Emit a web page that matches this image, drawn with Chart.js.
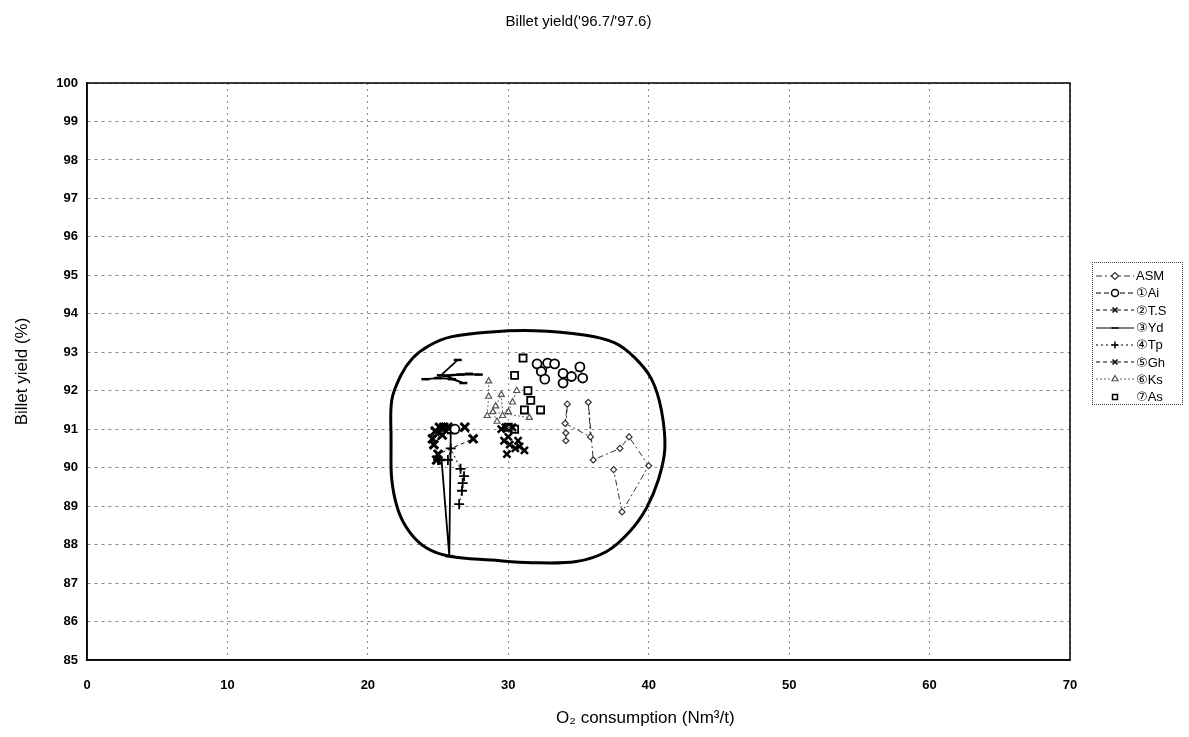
<!DOCTYPE html>
<html>
<head>
<meta charset="utf-8">
<script src="https://cdn.jsdelivr.net/npm/chart.js@4.4.0/dist/chart.umd.min.js"></script>
<style>
  html, body { margin: 0; padding: 0; background: #fff; }
  #wrap { position: relative; width: 1189px; height: 737px; }
  #legend {
    position: absolute; left: 1092px; top: 262px; width: 91px; height: 143px;
    box-sizing: border-box; border: 1px dotted #444; padding: 4px 0 0 2px;
    font: 13px "Liberation Sans", "DejaVu Sans", sans-serif; color: #000;
  }
  .row { display: flex; align-items: center; height: 17.3px; white-space: nowrap; }
  .row canvas { margin-right: 1px; }
</style>
</head>
<body>
<div id="wrap">
  <canvas id="chart" width="1189" height="737"></canvas>
  <div id="legend"></div>
</div>
<script>
// 坐标轴范围
const xRange = [0, 70, 10];
const yRange = [85, 100, 1];

// 各系列数据 [O2 消耗量, 收得率]，null 表示断线
const asmPts = [[34.1, 90.7], [34.1, 90.9], [34.2, 91.65], [34.05, 91.15], [35.85, 90.8], [35.7, 91.7],
  [36.05, 90.2], [37.95, 90.5], [38.6, 90.8], [40.0, 90.05], [38.1, 88.85], [37.5, 89.95]];
const aiPts = [[26.2, 91.0], null, [32.05, 92.7], [32.35, 92.5], [32.6, 92.3], [32.8, 92.72], [33.3, 92.7],
  [33.9, 92.45], [33.9, 92.2], [34.5, 92.37], [35.1, 92.62], [35.3, 92.33]];
const tsPts = [[29.5, 91.0], [29.8, 91.05], [30.3, 91.05], [30.0, 90.8], [29.7, 90.7], [30.1, 90.6],
  [30.5, 90.5], [30.8, 90.55], [31.15, 90.45], [30.7, 90.7], [29.9, 90.35]];
const ydPts = [[24.1, 92.3], [25.0, 92.33], [26.0, 92.3], [26.8, 92.2], [25.6, 92.38], [26.6, 92.42],
  [27.9, 92.42], [27.2, 92.44], [25.2, 92.4], [26.4, 92.8], null,
  [25.25, 90.2], [25.8, 87.7], [25.9, 90.9]];
const tpPts = [[25.0, 90.2], [25.7, 90.2], [25.9, 90.5], [26.6, 89.97], [26.85, 89.78], [26.75, 89.6],
  [26.7, 89.4], [26.5, 89.05]];
const ghPts = [[24.6, 90.75], [24.8, 90.95], [25.1, 91.05], [25.4, 91.05], [25.7, 91.05], [24.7, 90.6],
  [25.3, 90.85], [26.9, 91.05], [27.5, 90.75], [25.0, 90.35], [24.9, 90.2]];
const ksPts = [[28.6, 92.25], [28.6, 91.85], [28.5, 91.35], [29.1, 91.6], [29.5, 91.9], [29.6, 91.35],
  [30.0, 91.45], [30.6, 92.0], [30.3, 91.7], [29.2, 91.2], [28.9, 91.45], [31.5, 91.3]];
const asPts = [[31.05, 92.85], [30.45, 92.4], [31.4, 92.0], [31.6, 91.75], [31.15, 91.5], [32.3, 91.5],
  [30.45, 91.0], [30.0, 91.05]];
// 包络线
const envelopePts = [[21.65, 90.7], [21.7, 91.75], [22.35, 92.4], [23.2, 92.85], [24.35, 93.17], [25.9, 93.4],
  [28.8, 93.53], [31.85, 93.56], [35.4, 93.45], [37.55, 93.25], [39.0, 92.86], [40.2, 92.3], [40.9, 91.5],
  [41.15, 90.5], [40.7, 89.7], [39.85, 88.96], [38.65, 88.34], [37.0, 87.82], [34.85, 87.56], [31.65, 87.53],
  [28.8, 87.6], [25.9, 87.69], [24.15, 87.92], [22.95, 88.34], [22.15, 88.9], [21.7, 89.7], [21.65, 90.7]];

const seriesNames = ['ASM', '\u2460Ai', '\u2461T.S', '\u2462Yd', '\u2463Tp', '\u2464Gh', '\u2465Ks', '\u2466As'];

const FONT = '"Liberation Sans", "DejaVu Sans", sans-serif';
const TICK_FONT = '"Liberation Sans Narrow", "Liberation Sans", sans-serif';

function toXY(pts) {
  return pts.map(p => p ? { x: p[0], y: p[1] } : { x: null, y: null });
}

function series(label, pts, style) {
  return Object.assign({
    label,
    data: toXY(pts),
    showLine: true,
    spanGaps: false,
    borderColor: '#000',
    borderWidth: 1,
    pointBorderColor: '#000',
    pointBackgroundColor: '#fff',
    pointBorderWidth: 1.2,
    pointRadius: 4,
    fill: false
  }, style);
}

const datasets = [
  series(seriesNames[0], asmPts, { borderColor: '#333', pointBorderColor: '#333', borderDash: [6, 3, 2, 3], pointStyle: 'rectRot', pointRadius: 3 }),
  series(seriesNames[1], aiPts, { borderDash: [5, 3], pointStyle: 'circle', pointRadius: 4.5, pointBorderWidth: 1.8 }),
  series(seriesNames[2], tsPts, { borderDash: [4, 3], pointStyle: 'crossRot', pointRadius: 5, pointBorderWidth: 2.5 }),
  series(seriesNames[3], ydPts, { borderWidth: 1.8, pointStyle: 'line', pointRadius: 4, pointBorderWidth: 2.5 }),
  series(seriesNames[4], tpPts, { borderDash: [2, 3], pointStyle: 'cross', pointRadius: 5, pointBorderWidth: 1.8 }),
  series(seriesNames[5], ghPts, { borderDash: [4, 3], pointStyle: 'crossRot', pointRadius: 6, pointBorderWidth: 3 }),
  series(seriesNames[6], ksPts, { borderColor: '#666', pointBorderColor: '#555', borderDash: [2, 2], pointStyle: 'triangle', pointRadius: 3.5 }),
  series(seriesNames[7], asPts, { showLine: false, pointStyle: 'rect', pointRadius: 5, pointBorderWidth: 1.8 }),
  {
    label: 'envelope',
    data: toXY(envelopePts),
    showLine: true,
    borderColor: '#000',
    borderWidth: 3,
    pointRadius: 0,
    tension: 0.35,
    fill: false
  }
];

// 绘图区外框 + X 轴标题
const framePlugin = {
  id: 'frame',
  afterDraw(chart) {
    const { ctx, chartArea: a } = chart;
    ctx.save();
    ctx.strokeStyle = '#000';
    ctx.lineWidth = 1.5;
    ctx.strokeRect(a.left, a.top, a.right - a.left, a.bottom - a.top);
    ctx.fillStyle = '#000';
    ctx.font = '17px ' + FONT;
    ctx.textAlign = 'center';
    ctx.textBaseline = 'middle';
    ctx.fillText('O\u2082 consumption (Nm\u00b3/t)', a.left + (a.right - a.left) * 0.568, 718);
    ctx.restore();
  }
};

const chart = new Chart(document.getElementById('chart'), {
  type: 'scatter',
  data: { datasets },
  plugins: [framePlugin],
  options: {
    responsive: false,
    animation: false,
    layout: { padding: { right: 119 } },
    scales: {
      x: {
        type: 'linear',
        min: xRange[0], max: xRange[1],
        afterFit(scale) { scale.height = 77; },
        ticks: { stepSize: xRange[2], padding: 18, color: '#000', font: { family: TICK_FONT, size: 13, weight: 'bold' } },
        grid: { color: '#8a8a8a', lineWidth: 1, drawTicks: false },
        border: { display: true, color: '#000', width: 1.5, dash: [2, 4] }
      },
      y: {
        type: 'linear',
        min: yRange[0], max: yRange[1],
        afterFit(scale) { scale.width = 87; },
        ticks: { stepSize: yRange[2], padding: 9, color: '#000', font: { family: TICK_FONT, size: 13, weight: 'bold' } },
        grid: { color: '#8a8a8a', lineWidth: 1, drawTicks: false },
        border: { display: true, color: '#000', width: 1.5, dash: [3, 4] },
        title: { display: true, text: 'Billet yield (%)', color: '#000', font: { family: FONT, size: 17 }, padding: { top: 12 } }
      }
    },
    plugins: {
      legend: { display: false },
      tooltip: { enabled: false },
      title: {
        display: true,
        text: "Billet yield('96.7/'97.6)",
        color: '#000',
        fullSize: false,
        font: { family: FONT, size: 15, weight: 'normal' },
        padding: { top: 13, bottom: 52 }
      }
    }
  }
});

// 图例（线型 + 标记）
const legendEl = document.getElementById('legend');
datasets.slice(0, 8).forEach(ds => {
  const row = document.createElement('div');
  row.className = 'row';
  const cv = document.createElement('canvas');
  cv.width = 40; cv.height = 14;
  const g = cv.getContext('2d');
  if (ds.showLine !== false) {
    g.strokeStyle = ds.borderColor;
    g.lineWidth = 1;
    g.setLineDash(ds.borderDash || []);
    g.beginPath(); g.moveTo(1, 7); g.lineTo(39, 7); g.stroke();
    g.setLineDash([]);
  }
  g.strokeStyle = ds.pointBorderColor;
  g.fillStyle = ds.pointBackgroundColor;
  g.lineWidth = Math.min(ds.pointBorderWidth, 1.5);
  Chart.helpers.drawPoint(g, { pointStyle: ds.pointStyle, radius: 3.5, borderWidth: g.lineWidth, rotation: 0 }, 20, 7);
  const label = document.createElement('span');
  label.textContent = ds.label;
  row.appendChild(cv);
  row.appendChild(label);
  legendEl.appendChild(row);
});
</script>
</body>
</html>
